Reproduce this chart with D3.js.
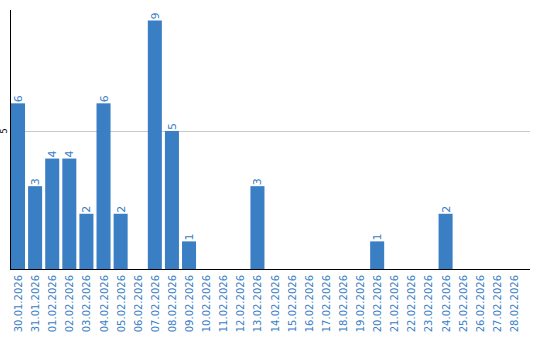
<!DOCTYPE html>
<html>
<head>
<meta charset="UTF-8">
<script src="https://d3js.org/d3.v7.min.js"></script>
<style>
  body { margin: 0; background: #fff; }
  text { font-family: "DejaVu Sans", Verdana, sans-serif; }
</style>
</head>
<body>
<div id="chart"></div>
<script>
const dates = ["30.01.2026","31.01.2026","01.02.2026","02.02.2026","03.02.2026","04.02.2026","05.02.2026",
  "06.02.2026","07.02.2026","08.02.2026","09.02.2026","10.02.2026","11.02.2026","12.02.2026","13.02.2026",
  "14.02.2026","15.02.2026","16.02.2026","17.02.2026","18.02.2026","19.02.2026","20.02.2026","21.02.2026",
  "22.02.2026","23.02.2026","24.02.2026","25.02.2026","26.02.2026","27.02.2026","28.02.2026"];
const counts = [6,3,4,4,2,6,2,0,9,5,1,0,0,0,3,0,0,0,0,0,0,1,0,0,0,2,0,0,0,0];
const yTicks = [5];

const width = 540, height = 340;
const plotLeft = 11, plotRight = 530, plotTop = 10, base = 269;
const blue = "#3a7ec4";

const svg = d3.select("#chart").append("svg")
  .attr("width", width).attr("height", height);

const x = d3.scaleBand().domain(dates).range([plotLeft, plotLeft + 17 * dates.length]).paddingInner(0.18).paddingOuter(0.0);
const y = d3.scaleLinear().domain([0, 9.38]).range([base, plotTop]);

// grid
svg.selectAll(".grid").data(yTicks).enter().append("line")
  .attr("x1", plotLeft).attr("x2", plotRight)
  .attr("y1", d => Math.round(y(d)) + 0.5).attr("y2", d => Math.round(y(d)) + 0.5)
  .attr("stroke", "#c8c8c8");

// bars
svg.selectAll(".bar").data(dates).enter().append("rect")
  .attr("x", d => x(d))
  .attr("width", x.bandwidth())
  .attr("y", (d, i) => y(counts[i]))
  .attr("height", (d, i) => base - y(counts[i]))
  .attr("fill", blue);

// bar labels
svg.selectAll(".lbl").data(dates.filter((d, i) => counts[i] > 0)).enter().append("text")
  .attr("transform", d => {
    const v = counts[dates.indexOf(d)];
    return `translate(${x(d) + x.bandwidth() / 2 + 4},${y(v) - 1}) rotate(-90)`;
  })
  .attr("fill", blue)
  .attr("font-size", 11)
  .text(d => counts[dates.indexOf(d)]);

// y axis
svg.append("line").attr("x1", plotLeft - 0.5).attr("x2", plotLeft - 0.5).attr("y1", plotTop).attr("y2", base + 1)
  .attr("stroke", "#000");
svg.selectAll(".ytick").data(yTicks).enter().append("text")
  .attr("transform", d => `translate(${7},${y(d)}) rotate(-90)`)
  .attr("text-anchor", "middle")
  .attr("font-size", 8)
  .attr("fill", "#000")
  .text(d => d);

// x axis
svg.append("line").attr("x1", plotLeft - 1).attr("x2", plotRight).attr("y1", base + 0.5).attr("y2", base + 0.5)
  .attr("stroke", "#000");
svg.selectAll(".xlbl").data(dates).enter().append("text")
  .attr("transform", d => `translate(${x(d) + x.bandwidth() / 2 + 4},${275}) rotate(-90)`)
  .attr("text-anchor", "end")
  .attr("font-size", 10)
  .attr("fill", blue)
  .text(d => d);
</script>
</body>
</html>
